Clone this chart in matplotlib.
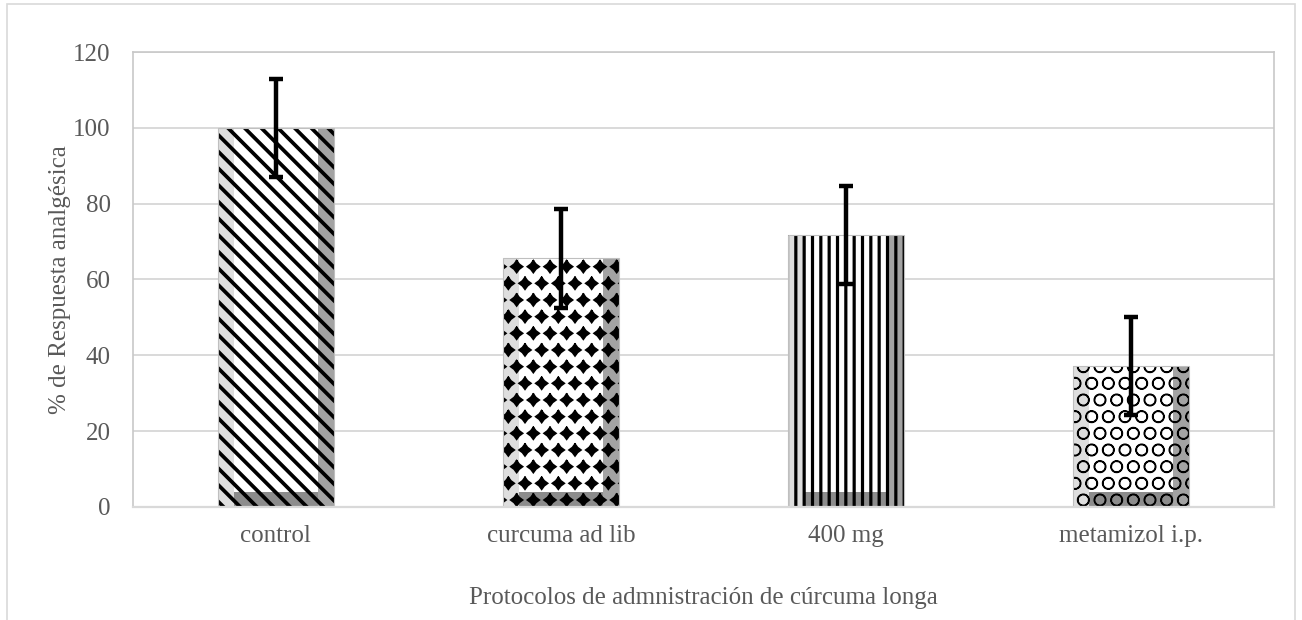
import matplotlib
matplotlib.use("Agg")
import matplotlib.pyplot as plt
import matplotlib.hatch as mhatch
from matplotlib.patches import Rectangle
from matplotlib.path import Path
import numpy as np

# data
categories = ["control", "curcuma ad lib", "400 mg", "metamizol i.p."]
respuesta = [100.0, 65.6, 71.7, 37.2]
error = [13.0, 13.0, 13.0, 13.0]
hatches = ["\\\\", "*", "||", "O"]
hatch_lw = [2.7, 1.2, 2.3, 1.0]


# '*' hatch drawn as filled four-point diamonds (closer to the Excel pattern)
class Diamonds(mhatch.Stars):
    size = 0.36

    def __init__(self, hatch, density):
        super().__init__(hatch, density)
        verts = Path.unit_regular_star(4, innerCircle=0.6).vertices
        self.shape_vertices = verts
        self.shape_codes = np.full(len(verts), Path.LINETO, dtype=Path.code_type)
        self.shape_codes[0] = Path.MOVETO
        self.num_vertices = self.num_shapes * len(verts)


mhatch._hatch_types = [Diamonds if t is mhatch.Stars else t
                       for t in mhatch._hatch_types]

plt.rcParams["font.family"] = ["Liberation Serif", "DejaVu Serif"]
text_color = "#595959"
grid_color = "#d9d9d9"

fig = plt.figure(figsize=(13.02, 6.2), dpi=100)
ax = fig.add_axes([0.1022, 0.1823, 0.8763, 0.7338])

x = np.arange(len(categories))
width = 0.407
side = 0.056
# bevel: white face, light left side, dark right side, dark bottom
ax.bar(x, respuesta, width, color="white", zorder=2)
ax.bar(x - width / 2 + side / 2, respuesta, side, color="#dedede", zorder=2.1)
ax.bar(x + width / 2 - side / 2, respuesta, side, color="#a3a3a3", zorder=2.1)
ax.bar(x, [4] * len(x), width - 2 * side, color="#8c8c8c", zorder=2.1)

# hatch overlay
overlay = ax.bar(x, respuesta, width, facecolor="none", edgecolor="black",
                 linewidth=0, zorder=2.2)
for patch, h, lw in zip(overlay, hatches, hatch_lw):
    patch.set_hatch(h)
    if hasattr(patch, "set_hatch_linewidth"):
        patch.set_hatch_linewidth(lw)
ax.bar(x, respuesta, width, facecolor="none", edgecolor="#bfbfbf",
       linewidth=0.8, zorder=2.3)

ax.errorbar(x, respuesta, yerr=error, fmt="none", ecolor="black",
            elinewidth=3.2, capsize=5, capthick=3.2, zorder=3)

ax.set_xlim(-0.5, len(categories) - 0.5)
ax.set_ylim(0, 120)
ax.set_yticks(np.arange(0, 121, 20))
ax.set_xticks(x)
ax.set_xticklabels(categories)
ax.tick_params(axis="both", length=0, labelsize=18, colors=text_color)
ax.tick_params(axis="x", pad=13)
ax.tick_params(axis="y", pad=16)
ax.grid(axis="y", color=grid_color, linewidth=1.4, zorder=0)
ax.set_axisbelow(True)
for s in ["left", "top", "right"]:
    ax.spines[s].set_color("#c8c8c8")
    ax.spines[s].set_linewidth(1.2)
ax.spines["bottom"].set_color(grid_color)
ax.spines["bottom"].set_linewidth(1.6)

ax.set_ylabel("% de Respuesta analgésica", fontsize=18, color=text_color,
              labelpad=2)
ax.set_xlabel("Protocolos de admnistración de cúrcuma longa", fontsize=18,
              color=text_color, labelpad=29)

# outer chart border
fig.patches.append(Rectangle((7 / 1302, -0.05), 1288 / 1302, 1.05 - 4 / 620,
                             transform=fig.transFigure, fill=False,
                             edgecolor="#d9d9d9", linewidth=1.2, clip_on=False))

fig.savefig("out.png", dpi=100)
